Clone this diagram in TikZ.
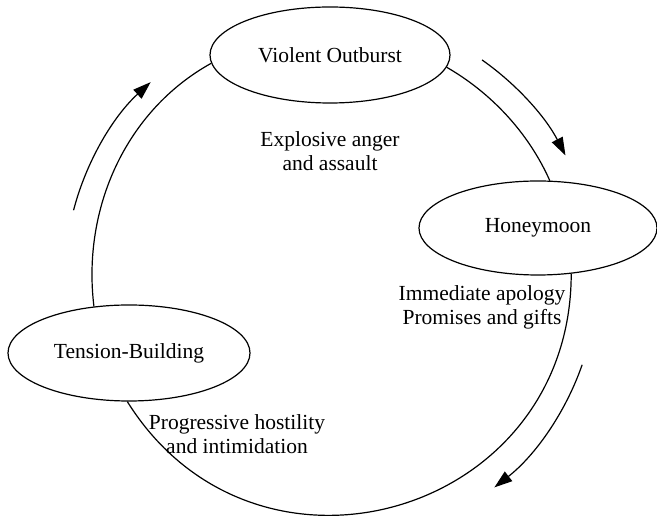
\documentclass[tikz,border=0pt]{standalone}
\usepackage{fontspec}
\setmainfont{Liberation Serif}
\newfontfamily\phasefont{Liberation Serif}
\usetikzlibrary{arrows.meta,shapes.geometric}

\begin{document}
\begin{tikzpicture}[x=1pt, y=1pt, line width=1.2pt,
    every node/.style={font=\phasefont\fontsize{21.5}{24.5}\selectfont, align=center},
    phase/.style={draw, ellipse, inner sep=0pt, minimum width=240pt, minimum height=96pt},
    cyclearrow/.style={-{Triangle[length=18pt,width=12pt]}}]
        \useasboundingbox (0,0) rectangle (657,519);
        \coordinate (c) at (330,242);
        \node (vo) [phase] at (330,464) {Violent Outburst};
        \node (hm) [phase, minimum width=238pt, minimum height=94pt] at (538,291) {Honeymoon};
        \node (tb) [phase, minimum width=242pt] at (129,166) {Tension-Building};
        \node (anger) at (330,368) {Explosive anger\\and assault};
        \node (apology) at (482,211.5) {Immediate apology\\Promises and gifts};
        \node (hostility) at (237,85) {Progressive hostility\\and intimidation};
        \draw (vo.-6) to[out=-30, in=114, looseness=0.87] (hm.76);
        \draw (hm.-54) to[out=-90, in=-58, looseness=1.34] (tb.-92);
        \draw (tb.127.6) to[out=97, in=209, looseness=0.93] (vo.184.8);
        \draw[cyclearrow] ([shift={(55:265)}]c) arc[start angle=55, end angle=27.3, radius=265];
        \draw[cyclearrow] ([shift={(-19.2:267)}]c) arc[start angle=-19.2, end angle=-52, radius=267];
        \draw[cyclearrow] ([shift={(165.4:265)}]c) arc[start angle=165.4, end angle=132.5, radius=264];
    \end{tikzpicture}
\end{document}
